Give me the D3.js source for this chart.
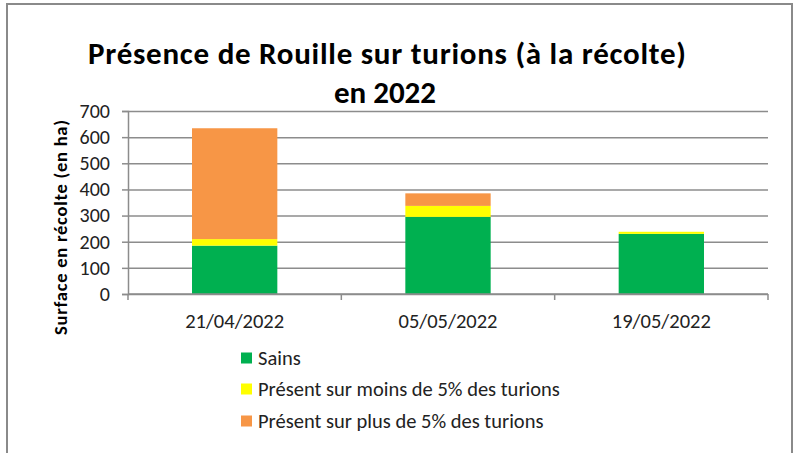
<!DOCTYPE html>
<html>
<head>
<meta charset="utf-8">
<script src="https://cdn.jsdelivr.net/npm/d3@7"></script>
<style>
  body { margin: 0; background: #fff; }
  svg { display: block; font-family: Carlito, Lato, "Liberation Sans", sans-serif; }
</style>
</head>
<body>
<svg id="chart" width="798" height="453"></svg>
<script>
// data
const categories = ["21/04/2022", "05/05/2022", "19/05/2022"];
const sains = [185, 295, 230];
const moins5 = [25, 42, 8];
const plus5 = [424, 48, 0];
const yTicks = [0, 100, 200, 300, 400, 500, 600, 700];
const seriesNames = ["Sains", "Présent sur moins de 5% des turions", "Présent sur plus de 5% des turions"];
const colors = ["#00B050", "#FFFF00", "#F79646"];

const svg = d3.select("#chart");
const m = { left: 128, right: 768, top: 111, bottom: 294 };

// outer frame
svg.append("rect")
  .attr("x", 7).attr("y", 4)
  .attr("width", 785).attr("height", 470)
  .attr("fill", "none")
  .attr("stroke", "#8a8a8a")
  .attr("stroke-width", 2);

const x = d3.scaleBand()
  .domain(categories)
  .range([m.left, m.right])
  .paddingInner(0.6)
  .paddingOuter(0.3);

const y = d3.scaleLinear()
  .domain([0, 700])
  .range([m.bottom, m.top]);

// gridlines
svg.append("g")
  .attr("transform", "translate(" + m.left + ",0)")
  .call(d3.axisLeft(y).tickValues(yTicks).tickSize(-(m.right - m.left)).tickFormat(""))
  .call(g => g.select(".domain").remove())
  .selectAll("line")
  .attr("stroke", "#8c8c8c")
  .attr("stroke-width", 1.5);

// stacked bars
const rows = categories.map((c, i) => ({ cat: c, s0: sains[i], s1: moins5[i], s2: plus5[i] }));
const stack = d3.stack().keys(["s0", "s1", "s2"])(rows);

svg.append("g")
  .selectAll("g")
  .data(stack)
  .enter()
  .append("g")
  .attr("fill", (d, i) => colors[i])
  .selectAll("rect")
  .data(d => d)
  .enter()
  .append("rect")
  .attr("x", d => x(d.data.cat))
  .attr("width", x.bandwidth())
  .attr("y", d => y(d[1]))
  .attr("height", d => y(d[0]) - y(d[1]));

// y axis
const yAxis = svg.append("g")
  .attr("transform", "translate(" + m.left + ",0)")
  .call(d3.axisLeft(y).tickValues(yTicks).tickSize(6).tickPadding(12));
yAxis.select(".domain").attr("stroke", "#8c8c8c").attr("stroke-width", 1.5);
yAxis.selectAll(".tick line").attr("stroke", "#8c8c8c").attr("stroke-width", 1.5);
yAxis.selectAll(".tick text")
  .attr("font-family", "Carlito, Lato, sans-serif")
  .attr("font-size", 20)
  .attr("fill", "#222");

// x axis: line plus ticks at category boundaries
const step = x.step();
const bounds = [m.left].concat(categories.map(c => x(c) + x.bandwidth() / 2 + step / 2));
svg.append("line")
  .attr("x1", m.left).attr("x2", m.right)
  .attr("y1", y(0)).attr("y2", y(0))
  .attr("stroke", "#8c8c8c").attr("stroke-width", 1.5);
svg.append("g")
  .selectAll("line")
  .data(bounds)
  .enter()
  .append("line")
  .attr("x1", d => d).attr("x2", d => d)
  .attr("y1", y(0)).attr("y2", y(0) + 6)
  .attr("stroke", "#8c8c8c").attr("stroke-width", 1.5);

svg.append("g")
  .selectAll("text")
  .data(categories)
  .enter()
  .append("text")
  .attr("x", d => x(d) + x.bandwidth() / 2)
  .attr("y", 328)
  .attr("text-anchor", "middle")
  .attr("font-size", 20.5)
  .attr("fill", "#222")
  .text(d => d);

// y axis title
svg.append("text")
  .attr("transform", "translate(67,227.5) rotate(-90)")
  .attr("text-anchor", "middle")
  .attr("font-size", 18.5)
  .attr("font-weight", "bold")
  .attr("fill", "#000")
  .attr("textLength", 215)
  .text("Surface en récolte (en ha)");

// title
svg.append("text")
  .attr("x", 387).attr("y", 64)
  .attr("text-anchor", "middle")
  .attr("font-size", 31)
  .attr("font-weight", "bold")
  .attr("textLength", 598)
  .text("Présence de Rouille sur turions (à la récolte)");
svg.append("text")
  .attr("x", 385).attr("y", 103)
  .attr("text-anchor", "middle")
  .attr("font-size", 31)
  .attr("font-weight", "bold")
  .text("en 2022");

// legend
const legend = svg.append("g")
  .selectAll("g")
  .data(seriesNames)
  .enter()
  .append("g")
  .attr("transform", (d, i) => "translate(241," + [358, 389, 421][i] + ")");
legend.append("rect")
  .attr("x", 0).attr("y", -5.5)
  .attr("width", 11).attr("height", 11)
  .attr("fill", (d, i) => colors[i]);
legend.append("text")
  .attr("x", 17).attr("y", 7)
  .attr("font-size", 20.5)
  .attr("fill", "#222")
  .text(d => d);
</script>
</body>
</html>
